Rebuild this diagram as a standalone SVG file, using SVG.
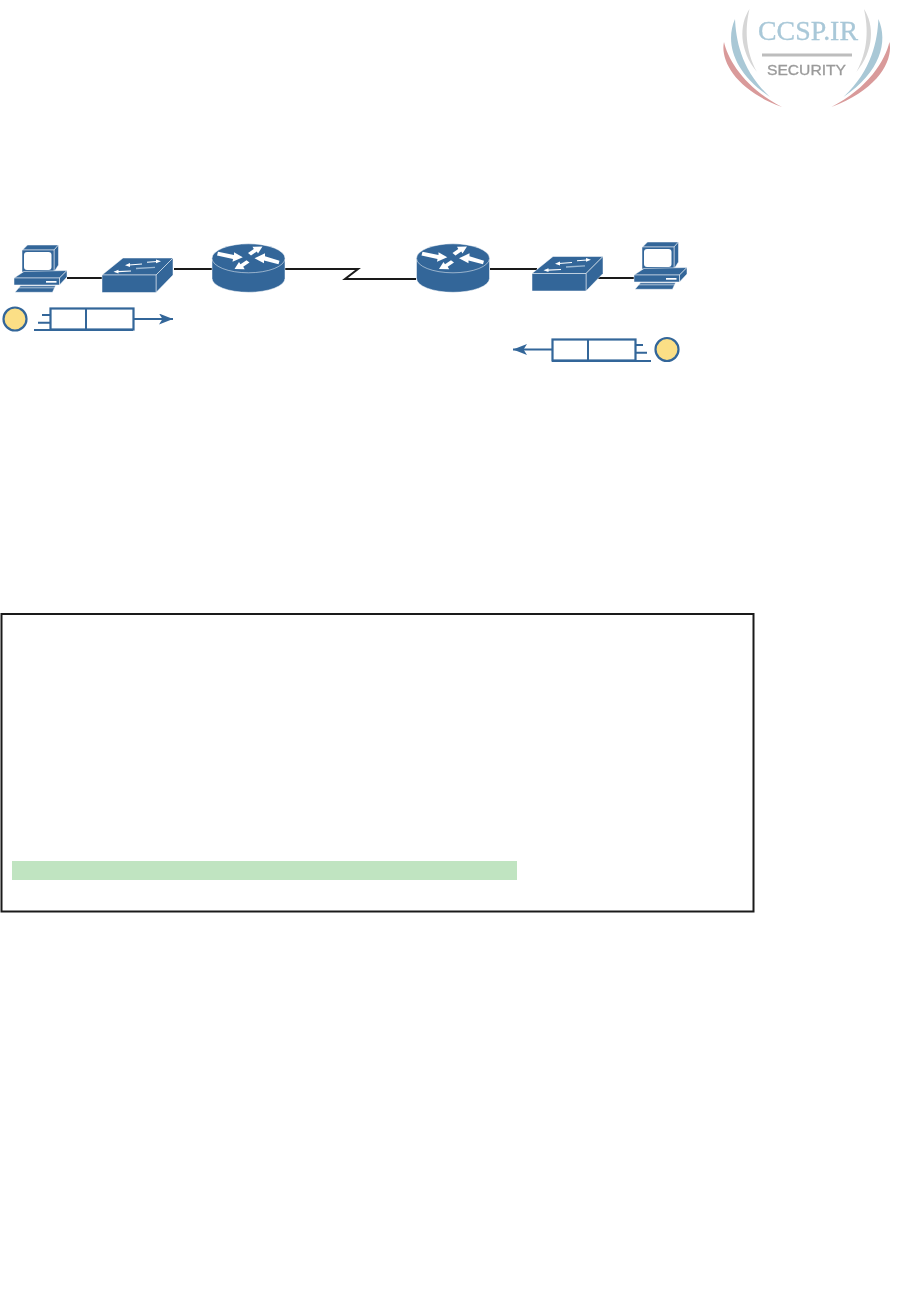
<svg xmlns="http://www.w3.org/2000/svg" width="919" height="1314" viewBox="0 0 919 1314">
<style>
.b{fill:#336699;stroke:#fff;stroke-width:.5;stroke-linejoin:round}
.w{fill:#fff}
.wl{fill:none;stroke:#fff;stroke-width:1.1}
.link{fill:none;stroke:#1a1a1a;stroke-width:2;stroke-linejoin:miter}
.pk{fill:#fff;stroke:#336699;stroke-width:2.200}
.pl{fill:none;stroke:#336699;stroke-width:2}
.dot{fill:#fbdf86;stroke:#336699;stroke-width:2.200}
.lg{fill:#d6d6d6}
.lb{fill:#a9c8d6}
.lr{fill:#d99a9a}
</style>
<defs>
<marker id="ah" markerUnits="userSpaceOnUse" markerWidth="15" markerHeight="12" refX="14" refY="5.5" orient="auto-start-reverse"><path d="M0,0 L14,5.5 L0,11 L3.500,5.5Z" fill="#336699"/></marker>
<filter id="soft" x="-5%" y="-5%" width="110%" height="110%"><feGaussianBlur stdDeviation="0.55"/></filter>
<g id="pc">
<path class="b" d="M22.500,250 L27.500,245 L58.500,245 L54,250Z"/>
<path class="b" d="M54,250 L58.500,245 L58.500,265 L54,272Z"/>
<rect class="b" x="22" y="250" width="32" height="22"/>
<rect class="w" x="24" y="252" width="27.500" height="18" rx="3"/>
<path class="b" d="M14,278 L24,271.500 L67,270.500 L59.500,278Z"/>
<path class="b" d="M59.500,278 L67,270.500 L67,277 L59.500,285Z"/>
<rect class="b" x="14" y="278" width="45.500" height="7"/>
<rect class="w" x="46" y="281" width="10.500" height="1.700"/>
<path class="b" d="M20.500,285.800 L55.500,285.800 L52.500,292.300 L15,292.300Z"/>
<path fill="none" stroke="#fff" stroke-width=".6" d="M18.500,287.800 L54.500,287.800"/>
</g>
<g id="sw">
<path class="b" d="M102,275 L123,258 L173,258 L156,275Z"/>
<path class="b" d="M156,275 L173,258 L173,275 L156,292.500Z"/>
<rect class="b" x="102" y="275" width="54" height="17.500"/>
<path class="wl" d="M129,265 L142,264 M147,262.300 L157,261.500 M118,271.600 L131,271"/>
<path class="w" d="M125,265.200 L130,263 L130,267Z M161,261.200 L156,259.500 L156,263.300Z M113.500,271.800 L118.500,269.700 L118.500,273.500Z"/>
<path fill="none" stroke="#9db9d3" stroke-width="1.300" d="M136,268.500 L155,267.300"/>
</g>
<g id="rt">
<path class="b" d="M-36.500,0 L-36.500,20 A36.500,14 0 0 0 36.500,20 L36.500,0Z"/>
<ellipse cx="0" cy="0" rx="36.500" ry="14.500" class="b"/>
<path class="w" d="M-5.700,-1 L-14.500,-6 L-14.500,-3.300 L-30.500,-6.500 L-31.500,-2.800 L-15.500,.8 L-16,3.500Z"/>
<path class="w" d="M14,-11.700 L4,-11.500 L5.300,-9.300 L-.5,-5.300 L2.500,-2.800 L8.300,-6.800 L9.500,-4.800Z"/>
<path class="w" d="M6,0 L16.500,-5 L16.500,-2 L31,2.500 L30,6 L15.500,2.300 L15.500,5Z"/>
<path class="w" d="M-14,10.700 L-3.800,11 L-5.300,8.500 L1,4.300 L-2,2 L-8,6 L-9.500,3.700Z"/>
</g>
<g id="arcs">
<path class="lg" d="M749.500,9 C739,25 739,50 757,72 C745,50 745,28 749.500,9Z"/>
<path class="lb" d="M735,19 C725,42 733,72 770,97 C741,70 736,40 735,19Z"/>
<path class="lr" d="M724,42 C720,60 735,90 782,107 C745,88 728,60 724,42Z"/>
</g>
</defs>

<g id="logo" filter="url(#soft)">
<use href="#arcs"/>
<use href="#arcs" transform="translate(1613.400,0) scale(-1,1)"/>
<text x="758" y="40" font-family="'Liberation Serif',serif" font-size="27.500" fill="#a9c8d8" stroke="#a9c8d8" stroke-width=".3" textLength="100" lengthAdjust="spacingAndGlyphs">CCSP.IR</text>
<rect x="762" y="53.500" width="90" height="3" fill="#bdbdbd"/>
<text x="767" y="75" font-family="'Liberation Sans',sans-serif" font-size="14" fill="#9a9a9a" stroke="#9a9a9a" stroke-width=".3" textLength="79" lengthAdjust="spacingAndGlyphs">SECURITY</text>
</g>

<g id="connectors">
<path class="link" d="M67,278 L102,278"/>
<path class="link" d="M174,269 L212,269"/>
<path class="link" d="M285,269 L358,269 L345,279 L416,279"/>
<path class="link" d="M490,269 L537,269"/>
<path class="link" d="M598,278 L634,278"/>
</g>

<g id="pc-left"><use href="#pc"/></g>
<g id="switch-left"><use href="#sw"/></g>
<g id="router-left"><use href="#rt" x="248.500" y="258.300"/></g>
<g id="router-right"><use href="#rt" x="453" y="258.300"/></g>
<g id="switch-right"><use href="#sw" x="430" y="-1.500"/></g>
<g id="pc-right"><use href="#pc" x="620" y="-3"/></g>

<g id="packet-left">
<circle class="dot" cx="15" cy="319" r="11.500"/>
<rect class="pk" x="50.500" y="308.500" width="83" height="21"/>
<path class="pl" d="M86,308.500 L86,329.500 M42,315 L50,315 M38,322.700 L50,322.700 M34,330 L133,330"/>
<path class="pl" d="M133.500,319 L173,319" marker-end="url(#ah)"/>
</g>
<g id="packet-right">
<circle class="dot" cx="667" cy="349.500" r="11.500"/>
<rect class="pk" x="552.500" y="339.500" width="83" height="21"/>
<path class="pl" d="M588,339.500 L588,360.500 M636,345 L643,345 M636,352.700 L647,352.700 M552,361 L651,361"/>
<path class="pl" d="M552.500,349.500 L513,349.500" marker-end="url(#ah)"/>
</g>

<g id="output-box">
<rect x="1.500" y="614" width="752" height="297.500" fill="#fff" stroke="#1a1a1a" stroke-width="2"/>
<rect x="12" y="861" width="505" height="19" fill="#c0e4c1"/>
</g>
</svg>
